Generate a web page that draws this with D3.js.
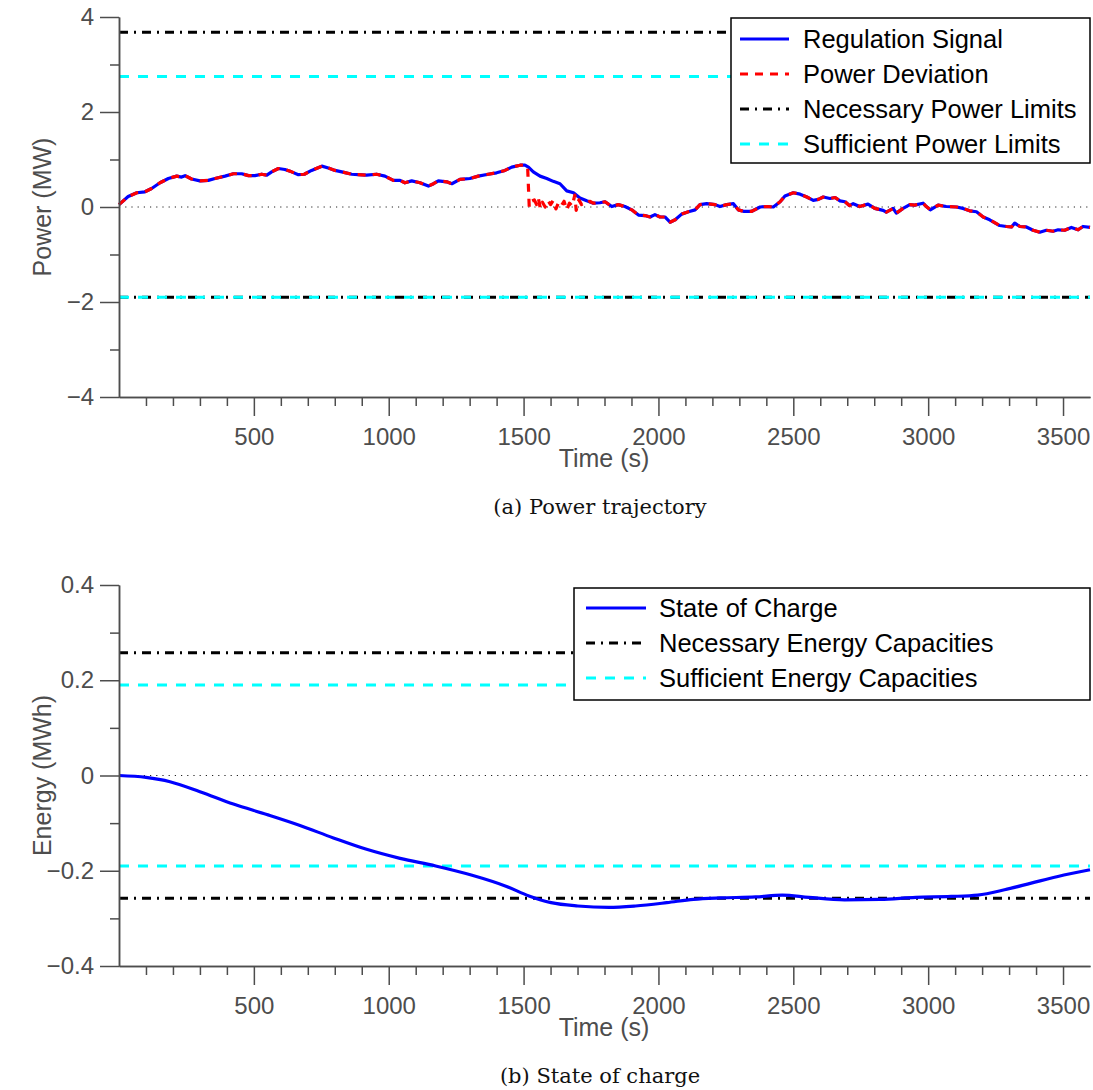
<!DOCTYPE html>
<html>
<head>
  <meta charset="utf-8">
  <title>Power trajectory and state of charge</title>
  <script src="https://d3js.org/d3.v7.min.js"></script>
  <style>
    body { margin: 0; background: #fff; }
    text { font-family: "Liberation Sans", Arial, Helvetica, sans-serif; }
    .caption { font-family: "DejaVu Serif", "Liberation Serif", serif; }
  </style>
</head>
<body>
  <svg width="1093" height="1090"></svg>
</body>
<script>

// --- data ---
const regTime = [0, 34, 66, 96, 121, 152, 183, 214, 232, 245, 269, 300, 331, 356, 393, 424, 455, 480, 504, 529,
  548, 566, 591, 615, 640, 665, 687, 714, 752, 776, 801, 826, 863, 887, 918, 955, 986, 1017, 1042, 1060,
  1085, 1116, 1147, 1166, 1184, 1215, 1234, 1264, 1301, 1332, 1369, 1400, 1431, 1456, 1487, 1505, 1518, 1536, 1561, 1586,
  1610, 1635, 1660, 1685, 1709, 1734, 1759, 1783, 1802, 1827, 1851, 1876, 1901, 1926, 1950, 1969, 1987, 2006, 2024, 2043,
  2062, 2086, 2111, 2136, 2154, 2179, 2210, 2228, 2253, 2278, 2296, 2315, 2346, 2377, 2401, 2426, 2451, 2469, 2500, 2525,
  2550, 2574, 2593, 2611, 2636, 2655, 2673, 2692, 2708, 2722, 2746, 2777, 2802, 2833, 2845, 2870, 2882, 2907, 2932, 2950,
  2981, 2993, 3008, 3037, 3067, 3105, 3129, 3154, 3179, 3204, 3228, 3265, 3290, 3309, 3321, 3340, 3364, 3389, 3414, 3438,
  3463, 3482, 3506, 3531, 3556, 3574, 3600];
const regPower = [0.05, 0.22, 0.30, 0.32, 0.39, 0.51, 0.60, 0.65, 0.63, 0.66, 0.59, 0.55, 0.56, 0.60, 0.65, 0.70, 0.70, 0.66, 0.66, 0.69,
  0.67, 0.74, 0.81, 0.79, 0.74, 0.68, 0.69, 0.77, 0.86, 0.82, 0.77, 0.74, 0.69, 0.68, 0.67, 0.69, 0.65, 0.56, 0.56, 0.51,
  0.55, 0.51, 0.44, 0.49, 0.55, 0.53, 0.49, 0.58, 0.60, 0.65, 0.69, 0.72, 0.77, 0.84, 0.88, 0.88, 0.84, 0.74, 0.65, 0.60,
  0.54, 0.49, 0.34, 0.30, 0.19, 0.13, 0.08, 0.09, 0.11, 0.01, 0.05, 0.01, -0.06, -0.17, -0.18, -0.21, -0.16, -0.21, -0.21, -0.32,
  -0.27, -0.15, -0.10, -0.06, 0.05, 0.07, 0.05, 0.01, 0.05, 0.07, -0.06, -0.09, -0.09, 0.00, 0.01, 0.00, 0.11, 0.23, 0.30, 0.27,
  0.21, 0.14, 0.16, 0.21, 0.18, 0.20, 0.13, 0.11, 0.03, 0.07, 0.01, 0.06, -0.03, -0.07, -0.11, -0.03, -0.13, -0.03, 0.05, 0.04,
  0.08, 0.01, -0.06, 0.04, 0.01, 0.00, -0.03, -0.08, -0.10, -0.21, -0.27, -0.39, -0.41, -0.42, -0.34, -0.41, -0.42, -0.49, -0.53, -0.49,
  -0.51, -0.48, -0.49, -0.43, -0.48, -0.41, -0.43];

// where the power deviation leaves the regulation signal
const devTime = [1505, 1515, 1521, 1530, 1540, 1548, 1555, 1562, 1570, 1580, 1590, 1600, 1610, 1620, 1630, 1640,
  1650, 1660, 1670, 1680, 1690, 1695, 1705, 1715, 1725, 1735, 1745, 1759];
const devPower = [0.88, 0.84, 0.00, 0.12, 0.15, 0.05, 0.18, -0.03, 0.10, 0.00, 0.14, 0.05, 0.14, -0.04, 0.10, 0.03,
  0.12, -0.06, 0.08, 0.02, 0.25, -0.07, 0.15, 0.05, 0.10, 0.08, 0.12, 0.08];

const socTime = [0, 100, 189, 300, 424, 548, 671, 795, 918, 1042, 1174, 1306, 1437, 1520, 1602, 1701, 1816, 1915,
  2031, 2130, 2228, 2360, 2459, 2558, 2690, 2822, 2954, 3085, 3184, 3283, 3382, 3481, 3600];
const socEnergy = [0, -0.004, -0.013, -0.034, -0.060, -0.082, -0.105, -0.131, -0.155, -0.174, -0.190, -0.209, -0.233, -0.253,
  -0.267, -0.274, -0.277, -0.274, -0.267, -0.260, -0.257, -0.255, -0.251, -0.256, -0.261, -0.260, -0.256, -0.254, -0.251,
  -0.240, -0.226, -0.212, -0.198];

const powerNecessary = [3.68, -1.90];
const powerSufficient = [2.75, -1.90];
const energyNecessary = [0.258, -0.258];
const energySufficient = [0.19, -0.19];

const xMajor = [500, 1000, 1500, 2000, 2500, 3000, 3500];
const xMinor = d3.range(100, 3600, 100).filter(d => d % 500 !== 0);
const powerTicks = [-4, -2, 0, 2, 4];
const powerMinor = [-3, -1, 1, 3];
const energyTicks = [-0.4, -0.2, 0, 0.2, 0.4];
const energyMinor = [-0.3, -0.1, 0.1, 0.3];

const regSeries = regTime.map((t, i) => ({t: t, v: regPower[i]}));
const devSeries = regSeries.filter(d => d.t < devTime[0])
  .concat(devTime.map((t, i) => ({t: t, v: devPower[i]})))
  .concat(regSeries.filter(d => d.t > devTime[devTime.length - 1]));
const socSeries = socTime.map((t, i) => ({t: t, v: socEnergy[i]}));

// --- drawing ---
const GREY = '#4d4d4d';
const DASHDOT = '9,6,2,6';
const svg = d3.select('svg');
const x = d3.scaleLinear().domain([0, 3600]).range([119, 1090]);

let drawPanel = (cfg) => {
  let y = d3.scaleLinear().domain(cfg.domain).range(cfg.range);
  let g = svg.append('g');
  let bottom = cfg.range[0];

  // zero line
  g.append('line')
    .attr('x1', x(0)).attr('x2', x(3600))
    .attr('y1', y(0)).attr('y2', y(0))
    .style('stroke', '#222').style('stroke-width', 1).style('stroke-dasharray', '1.2,5');

  let hline = (v, color, dash) => {
    g.append('line')
      .attr('x1', x(0)).attr('x2', x(3600))
      .attr('y1', y(v)).attr('y2', y(v))
      .style('stroke', color).style('stroke-width', 3).style('stroke-dasharray', dash);
  };
  cfg.necessary.forEach(v => hline(v, '#000', DASHDOT));
  cfg.sufficient.forEach(v => hline(v, '#00ffff', '10,9'));

  let line = d3.line().x(d => x(d.t)).y(d => y(d.v)).curve(cfg.curve);
  cfg.series.forEach(s => {
    g.append('path').datum(s.data)
      .attr('d', line)
      .style('fill', 'none')
      .style('stroke', s.color)
      .style('stroke-width', 3.2)
      .style('stroke-linejoin', 'round')
      .style('stroke-dasharray', s.dash || null);
  });

  // axes
  let styleAxis = (a) => {
    a.select('.domain').style('stroke', GREY).style('stroke-width', 1.5);
    a.selectAll('.tick line').style('stroke', GREY).style('stroke-width', 1.5);
    a.selectAll('text').style('fill', GREY).style('font-size', '24px')
      .style('font-family', '"Liberation Sans", Arial, sans-serif');
  };
  let ax = g.append('g').attr('transform', 'translate(0,' + bottom + ')')
    .call(d3.axisBottom(x).tickValues(xMajor).tickSize(19).tickSizeOuter(0).tickPadding(12).tickFormat(d3.format('d')));
  styleAxis(ax);
  let axm = g.append('g').attr('transform', 'translate(0,' + bottom + ')')
    .call(d3.axisBottom(x).tickValues(xMinor).tickSize(9).tickSizeOuter(0).tickFormat(''));
  styleAxis(axm);
  let ay = g.append('g').attr('transform', 'translate(' + x(0) + ',0)')
    .call(d3.axisLeft(y).tickValues(cfg.ticks).tickSize(19).tickSizeOuter(0).tickPadding(6).tickFormat(cfg.fmt));
  styleAxis(ay);
  let aym = g.append('g').attr('transform', 'translate(' + x(0) + ',0)')
    .call(d3.axisLeft(y).tickValues(cfg.minor).tickSize(9).tickSizeOuter(0).tickFormat(''));
  styleAxis(aym);

  g.append('text')
    .attr('transform', 'translate(51,' + (cfg.range[0] + cfg.range[1]) / 2 + ') rotate(-90)')
    .attr('text-anchor', 'middle')
    .style('font-size', '25px').style('fill', GREY)
    .text(cfg.ylabel);
  g.append('text')
    .attr('x', 604).attr('y', bottom + 70)
    .attr('text-anchor', 'middle')
    .style('font-size', '25px').style('fill', GREY)
    .text('Time (s)');
  g.append('text').attr('class', 'caption')
    .attr('x', 600).attr('y', bottom + 117)
    .attr('text-anchor', 'middle')
    .style('font-size', '21px').style('fill', '#111')
    .text(cfg.caption);

  // legend
  let L = cfg.legend;
  g.append('rect')
    .attr('x', L.x).attr('y', L.y).attr('width', L.w).attr('height', L.h)
    .style('fill', '#fff').style('stroke', '#000').style('stroke-width', 1.5);
  L.items.forEach((it, i) => {
    let yy = L.y + L.first + i * L.step;
    g.append('line')
      .attr('x1', L.x + L.pad).attr('x2', L.x + L.pad + L.len)
      .attr('y1', yy).attr('y2', yy)
      .style('stroke', it.color).style('stroke-width', 3).style('stroke-dasharray', it.dash || null);
    g.append('text')
      .attr('x', L.x + L.pad + L.len + L.gap).attr('y', yy)
      .attr('dy', '0.35em')
      .style('font-size', '25.5px').style('fill', '#000')
      .text(it.label);
  });
};

drawPanel({
  domain: [-4, 4], range: [397, 17],
  ticks: powerTicks, minor: powerMinor, fmt: d3.format('d'),
  necessary: powerNecessary, sufficient: powerSufficient,
  curve: d3.curveLinear,
  series: [
    {data: regSeries, color: '#0000ff'},
    {data: devSeries, color: '#ff0000', dash: '8,7'}
  ],
  ylabel: 'Power (MW)',
  caption: '(a) Power trajectory',
  legend: {
    x: 731, y: 18, w: 359, h: 145, pad: 9, len: 49, gap: 14, first: 21, step: 35,
    items: [
      {label: 'Regulation Signal', color: '#0000ff'},
      {label: 'Power Deviation', color: '#ff0000', dash: '8,7'},
      {label: 'Necessary Power Limits', color: '#000', dash: DASHDOT},
      {label: 'Sufficient Power Limits', color: '#00ffff', dash: '10,9'}
    ]
  }
});

drawPanel({
  domain: [-0.4, 0.4], range: [966, 585],
  ticks: energyTicks, minor: energyMinor, fmt: d => d === 0 ? '0' : d3.format('.1f')(d),
  necessary: energyNecessary, sufficient: energySufficient,
  curve: d3.curveMonotoneX,
  series: [
    {data: socSeries, color: '#0000ff'}
  ],
  ylabel: 'Energy (MWh)',
  caption: '(b) State of charge',
  legend: {
    x: 574, y: 588, w: 516, h: 112, pad: 12, len: 60, gap: 13, first: 20, step: 35,
    items: [
      {label: 'State of Charge', color: '#0000ff'},
      {label: 'Necessary Energy Capacities', color: '#000', dash: DASHDOT},
      {label: 'Sufficient Energy Capacities', color: '#00ffff', dash: '10,9'}
    ]
  }
});

</script>
</html>
